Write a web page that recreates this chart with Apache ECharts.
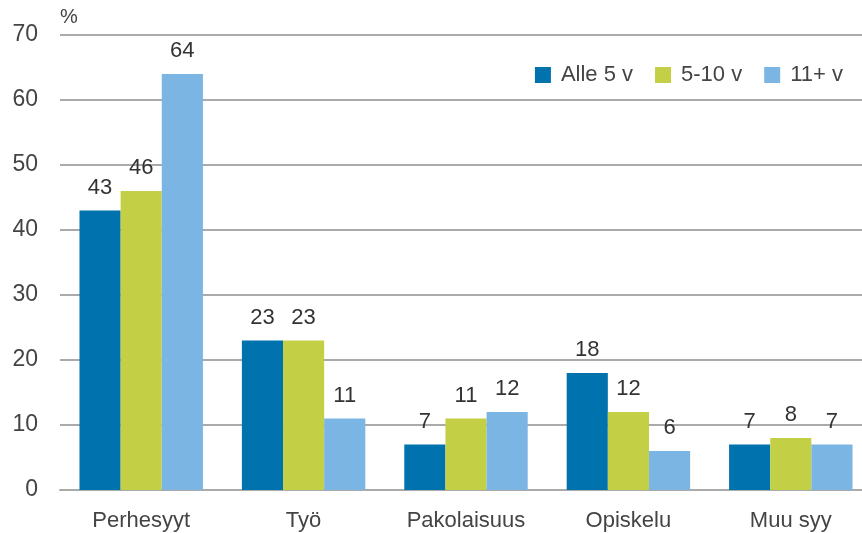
<!DOCTYPE html>
<html><head><meta charset="utf-8">
<script src="https://cdn.jsdelivr.net/npm/echarts@6/dist/echarts.min.js"></script>
<style>html,body{margin:0;padding:0;background:#fff}#c{width:862px;height:533px}</style>
</head><body><div id="c"></div>
<script>
const categories = ["Perhesyyt", "Työ", "Pakolaisuus", "Opiskelu", "Muu syy"];
const seriesNames = ["Alle 5 v", "5-10 v", "11+ v"];
const alle5 = [43, 23, 7, 18, 7];
const v5to10 = [46, 23, 11, 12, 8];
const v11plus = [64, 11, 12, 6, 7];
const colors = ["#0072ad", "#c3cf45", "#7ab5e4"];
const font = "Liberation Sans, Arial, sans-serif";

const chart = echarts.init(document.getElementById('c'), null, {renderer: 'canvas'});
const mk = (name, data, color) => ({
  name, type: 'bar', data, barGap: '0%', barCategoryGap: '24%',
  itemStyle: {color},
  label: {show: true, position: 'top', distance: 12, color: '#333', fontSize: 22, fontFamily: font},
  animation: false
});
chart.setOption({
  animation: false,
  textStyle: {fontFamily: font},
  grid: {left: 60, top: 35, height: 455, width: 812, outerBoundsMode: 'none', containLabel: false},
  legend: {
    data: seriesNames, right: 14, top: 59, itemWidth: 16, itemHeight: 16, itemGap: 22,
    icon: 'rect', textStyle: {fontSize: 22, color: '#444', fontFamily: font, padding: [0, 0, 0, 5]}
  },
  xAxis: {
    type: 'category', data: categories,
    axisLine: {show: true, lineStyle: {color: '#aaa', width: 2}},
    axisTick: {show: false},
    axisLabel: {fontSize: 22, color: '#444', margin: 20, fontFamily: font}
  },
  yAxis: {
    type: 'value', min: 0, max: 70, interval: 10, name: '%',
    nameLocation: 'end', nameGap: 8,
    nameTextStyle: {fontSize: 20, color: '#444', align: 'left', fontFamily: font},
    axisLine: {show: false}, axisTick: {show: false},
    axisLabel: {fontSize: 23, color: '#444', margin: 22, fontFamily: font},
    splitLine: {lineStyle: {color: '#aaa', width: 2}}
  },
  series: [mk(seriesNames[0], alle5, colors[0]), mk(seriesNames[1], v5to10, colors[1]), mk(seriesNames[2], v11plus, colors[2])]
});
</script></body></html>
